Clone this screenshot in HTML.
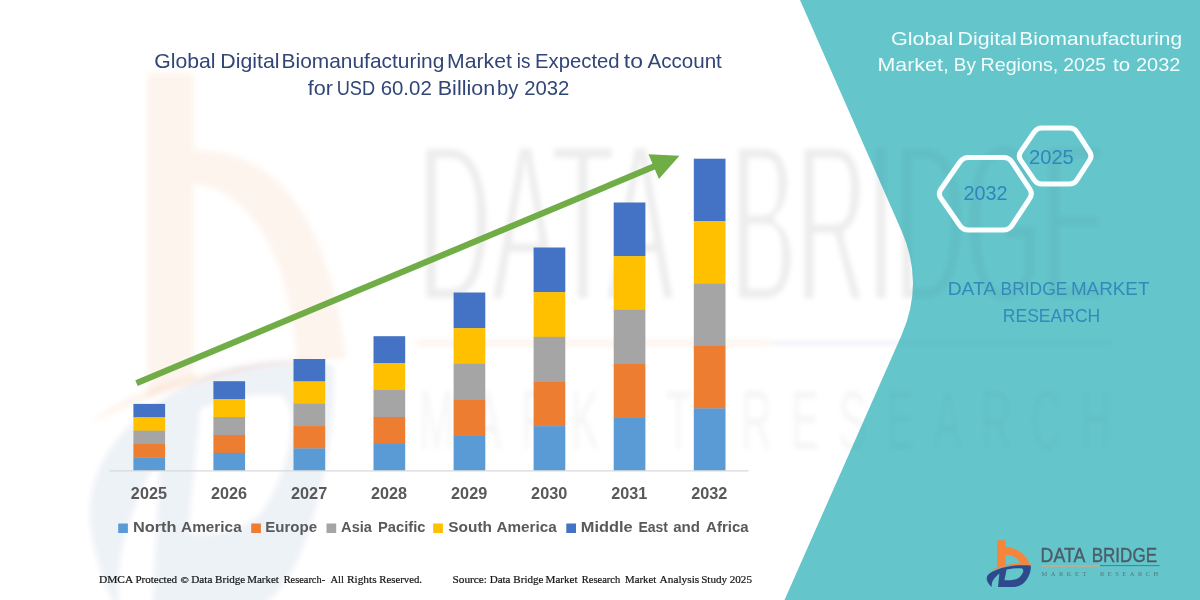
<!DOCTYPE html>
<html lang="en">
<head>
<meta charset="utf-8">
<title>Global Digital Biomanufacturing Market</title>
<style>
  html, body { margin: 0; padding: 0; background: #ffffff; }
  body { width: 1200px; height: 600px; overflow: hidden; }
  svg { display: block; }
  text { font-family: "Liberation Sans", sans-serif; }
  text.serif { font-family: "Liberation Serif", serif; }
  #mark .o { fill: #F5853B; }
  #mark .b { fill: #2F4A8C; }
</style>
</head>
<body>
<svg width="1200" height="600" viewBox="0 0 1200 600">
  <defs>
    <filter id="wmblur" x="-5%" y="-5%" width="110%" height="110%"><feGaussianBlur stdDeviation="2.6"/></filter>
    <filter id="wmthin" x="-5%" y="-5%" width="110%" height="110%"><feMorphology operator="erode" radius="0.4 3.6"/><feGaussianBlur stdDeviation="2.8"/></filter>
    <!-- logo mark drawn in a 50x50 box -->
    <g id="mark">
      <g id="markO">
      <path class="o" d="M12.1,0.2 L20.65,0.2 L20.65,7.2 C25,7 27.5,7.6 30.5,9.2 C35,11.4 38.5,14.2 41,17.6 C42.8,20 44,22.4 44.8,24.9 L35.6,23.7 C33.6,19.6 31,17.2 27.5,16 C25.4,15.3 23.4,15.1 20.65,15.1 L20.65,25.3 L12.1,27.4 Z"/>
      <path class="o" d="M2.6,31.1 C8,28.6 14,26.8 20.6,25.2 C29,23.6 38,23.4 49.6,24.8 C38,24.6 29,25 21,26.6 C14,28 8,29.6 2.6,31.1 Z"/>
      </g>
      <path id="markB" class="b" d="M45.8,25.6 C38,24.9 30,25.1 22,26.7 C14,28.4 8.2,30.6 4.4,33.6 C1.6,35.9 1,38.6 2.4,41.4 C3.6,43.8 5.2,45.8 6.9,47 C6.4,44.6 6.8,42.2 8.3,39.9 C9.8,37.6 11.8,35.4 14.4,33.4 L13,46.9 L29.8,47.1 C34.4,46.6 38,44.4 40.8,40.8 C43.4,37.4 45,33.6 45.6,30 C45.9,28.4 45.9,27 45.8,25.6 Z M21.6,29.4 C27,28.3 32,28 36.6,28.2 C38.2,29 38.6,30.4 38.1,32 C37.2,34.6 35.4,36.6 33.2,38.2 C30,40 25,40.5 19.4,40.2 Z"/>
    </g>
  <g id="wm">
    <g filter="url(#wmblur)">
      <g fill="#ED7D31" fill-opacity="0.085">
        <path d="M147.5,73 L194,73 L194,150 C226,150 262,160 290,195 C320,232 338,290 346,358 L297,361 C292,300 280,256 256,223 C238,200 220,186 194,185 L194,380 L147.5,397 Z"/>
        <path d="M90,423 C120,398 160,382 200,374 C250,362 300,356 352,357 C300,360 250,368 204,382 C160,394 122,408 90,423 Z"/>
      </g>
      <g transform="translate(81.1,70.7) scale(5.5,11.5)" opacity="0.07">
        <use href="#markB"/>
      </g>
      <rect x="416" y="340.5" width="354" height="5" fill="#ED7D31" fill-opacity="0.09"/>
      <rect x="770" y="341.5" width="342" height="3" fill="#2F4A8C" fill-opacity="0.07"/>
      <text transform="translate(419,449) scale(0.5,1)" x="0" y="0" font-size="84" fill="#000000" fill-opacity="0.038" textLength="1384" lengthAdjust="spacing" xml:space="preserve">MARKET RESEARCH</text>
    </g>
    <g fill="#000000" fill-opacity="0.07" font-size="228" filter="url(#wmthin)">
      <text x="418" y="302" textLength="256" lengthAdjust="spacingAndGlyphs">DATA</text>
      <text x="731" y="302" textLength="376" lengthAdjust="spacingAndGlyphs">BRIDGE</text>
    </g>
  </g>
    <clipPath id="cpTeal"><path d="M800,0 L901.5,230.7 Q924.5,283 901.5,335.3 L784.5,600 L1200,600 L1200,0 Z"/></clipPath>
    <clipPath id="cpWhite"><path d="M0,0 H1200 V600 H0 Z M800,0 L901.5,230.7 Q924.5,283 901.5,335.3 L784.5,600 L1200,600 L1200,0 Z" clip-rule="evenodd"/></clipPath>
  </defs>

  <rect x="0" y="0" width="1200" height="600" fill="#ffffff"/>

  <!-- TEAL PANEL -->
  <path id="panel" d="M800,0 L901.5,230.7 Q924.5,283 901.5,335.3 L784.5,600 L1200,600 L1200,0 Z" fill="#64C5CB"/>

  <!-- WATERMARK -->
  <use href="#wm" clip-path="url(#cpWhite)"/>
  <use href="#wm" clip-path="url(#cpTeal)" opacity="0.5"/>

  <!-- TITLE -->
  <g fill="#314577">
    <text y="68" font-size="20.2"><tspan x="154.24" textLength="61.35" lengthAdjust="spacingAndGlyphs">Global</tspan> <tspan x="220.30" textLength="59.17" lengthAdjust="spacingAndGlyphs">Digital</tspan> <tspan x="281.63" textLength="162.67" lengthAdjust="spacingAndGlyphs">Biomanufacturing</tspan> <tspan x="447.00" textLength="64.83" lengthAdjust="spacingAndGlyphs">Market</tspan> <tspan x="516.77" textLength="13.63" lengthAdjust="spacingAndGlyphs">is</tspan> <tspan x="535.08" textLength="84.53" lengthAdjust="spacingAndGlyphs">Expected</tspan> <tspan x="623.86" textLength="19.15" lengthAdjust="spacingAndGlyphs">to</tspan> <tspan x="647.40" textLength="74.47" lengthAdjust="spacingAndGlyphs">Account</tspan></text>
    <text y="94.9" font-size="20.2"><tspan x="307.88" textLength="25.19" lengthAdjust="spacingAndGlyphs">for</tspan> <tspan x="336.64" textLength="38.41" lengthAdjust="spacingAndGlyphs">USD</tspan> <tspan x="380.68" textLength="51.09" lengthAdjust="spacingAndGlyphs">60.02</tspan> <tspan x="437.78" textLength="57.38" lengthAdjust="spacingAndGlyphs">Billion</tspan> <tspan x="496.99" textLength="21.34" lengthAdjust="spacingAndGlyphs">by</tspan> <tspan x="524.19" textLength="45.12" lengthAdjust="spacingAndGlyphs">2032</tspan></text>
  </g>

  <!-- CHART -->
  <g id="chart">
    <rect x="133.4" y="403.90" width="31.7" height="13.68" fill="#4472C4"/>
    <rect x="133.4" y="417.28" width="31.7" height="13.68" fill="#FFC000"/>
    <rect x="133.4" y="430.66" width="31.7" height="13.68" fill="#A5A5A5"/>
    <rect x="133.4" y="444.04" width="31.7" height="13.68" fill="#ED7D31"/>
    <rect x="133.4" y="457.42" width="31.7" height="13.38" fill="#5B9BD5"/>
    <rect x="213.4" y="381.20" width="31.7" height="18.22" fill="#4472C4"/>
    <rect x="213.4" y="399.12" width="31.7" height="18.22" fill="#FFC000"/>
    <rect x="213.4" y="417.04" width="31.7" height="18.22" fill="#A5A5A5"/>
    <rect x="213.4" y="434.96" width="31.7" height="18.22" fill="#ED7D31"/>
    <rect x="213.4" y="452.88" width="31.7" height="17.92" fill="#5B9BD5"/>
    <rect x="293.5" y="359.00" width="31.7" height="22.66" fill="#4472C4"/>
    <rect x="293.5" y="381.36" width="31.7" height="22.66" fill="#FFC000"/>
    <rect x="293.5" y="403.72" width="31.7" height="22.66" fill="#A5A5A5"/>
    <rect x="293.5" y="426.08" width="31.7" height="22.66" fill="#ED7D31"/>
    <rect x="293.5" y="448.44" width="31.7" height="22.36" fill="#5B9BD5"/>
    <rect x="373.5" y="336.20" width="31.7" height="27.22" fill="#4472C4"/>
    <rect x="373.5" y="363.12" width="31.7" height="27.22" fill="#FFC000"/>
    <rect x="373.5" y="390.04" width="31.7" height="27.22" fill="#A5A5A5"/>
    <rect x="373.5" y="416.96" width="31.7" height="27.22" fill="#ED7D31"/>
    <rect x="373.5" y="443.88" width="31.7" height="26.92" fill="#5B9BD5"/>
    <rect x="453.6" y="292.50" width="31.7" height="35.96" fill="#4472C4"/>
    <rect x="453.6" y="328.16" width="31.7" height="35.96" fill="#FFC000"/>
    <rect x="453.6" y="363.82" width="31.7" height="35.96" fill="#A5A5A5"/>
    <rect x="453.6" y="399.48" width="31.7" height="35.96" fill="#ED7D31"/>
    <rect x="453.6" y="435.14" width="31.7" height="35.66" fill="#5B9BD5"/>
    <rect x="533.6" y="247.50" width="31.7" height="44.96" fill="#4472C4"/>
    <rect x="533.6" y="292.16" width="31.7" height="44.96" fill="#FFC000"/>
    <rect x="533.6" y="336.82" width="31.7" height="44.96" fill="#A5A5A5"/>
    <rect x="533.6" y="381.48" width="31.7" height="44.96" fill="#ED7D31"/>
    <rect x="533.6" y="426.14" width="31.7" height="44.66" fill="#5B9BD5"/>
    <rect x="613.7" y="202.50" width="31.7" height="53.96" fill="#4472C4"/>
    <rect x="613.7" y="256.16" width="31.7" height="53.96" fill="#FFC000"/>
    <rect x="613.7" y="309.82" width="31.7" height="53.96" fill="#A5A5A5"/>
    <rect x="613.7" y="363.48" width="31.7" height="53.96" fill="#ED7D31"/>
    <rect x="613.7" y="417.14" width="31.7" height="53.66" fill="#5B9BD5"/>
    <rect x="693.8" y="158.70" width="31.7" height="62.72" fill="#4472C4"/>
    <rect x="693.8" y="221.12" width="31.7" height="62.72" fill="#FFC000"/>
    <rect x="693.8" y="283.54" width="31.7" height="62.72" fill="#A5A5A5"/>
    <rect x="693.8" y="345.96" width="31.7" height="62.72" fill="#ED7D31"/>
    <rect x="693.8" y="408.38" width="31.7" height="62.42" fill="#5B9BD5"/>
    <line x1="109.5" y1="470.8" x2="748.5" y2="470.8" stroke="#D9D9D9" stroke-width="1.3"/>
    <polygon fill="#70AD47" points="137.7,386.1 654.9,169.5 658.9,179.1 679.5,155.8 648.5,154.2 652.5,163.8 135.3,380.3"/>
  </g>
  <g fill="#595959">
    <text y="498.9" font-size="15.8" font-weight="bold"><tspan x="130.88" textLength="36.05" lengthAdjust="spacingAndGlyphs">2025</tspan></text>
    <text y="498.9" font-size="15.8" font-weight="bold"><tspan x="210.93" textLength="36.13" lengthAdjust="spacingAndGlyphs">2026</tspan></text>
    <text y="498.9" font-size="15.8" font-weight="bold"><tspan x="290.98" textLength="36.30" lengthAdjust="spacingAndGlyphs">2027</tspan></text>
    <text y="498.9" font-size="15.8" font-weight="bold"><tspan x="371.03" textLength="36.05" lengthAdjust="spacingAndGlyphs">2028</tspan></text>
    <text y="498.9" font-size="15.8" font-weight="bold"><tspan x="451.08" textLength="36.13" lengthAdjust="spacingAndGlyphs">2029</tspan></text>
    <text y="498.9" font-size="15.8" font-weight="bold"><tspan x="531.13" textLength="36.21" lengthAdjust="spacingAndGlyphs">2030</tspan></text>
    <text y="498.9" font-size="15.8" font-weight="bold"><tspan x="611.18" textLength="36.05" lengthAdjust="spacingAndGlyphs">2031</tspan></text>
    <text y="498.9" font-size="15.8" font-weight="bold"><tspan x="691.23" textLength="36.21" lengthAdjust="spacingAndGlyphs">2032</tspan></text>
  </g>
  <g fill="#595959">
    <rect x="118.2" y="523.5" width="9.7" height="9.5" fill="#5B9BD5"/>
    <text y="531.8" font-size="14.4" font-weight="bold"><tspan x="132.94" textLength="43.56" lengthAdjust="spacingAndGlyphs">North</tspan> <tspan x="181.12" textLength="60.56" lengthAdjust="spacingAndGlyphs">America</tspan></text>
    <rect x="251.2" y="523.5" width="9.7" height="9.5" fill="#ED7D31"/>
    <text y="531.8" font-size="14.4" font-weight="bold"><tspan x="265.22" textLength="51.80" lengthAdjust="spacingAndGlyphs">Europe</tspan></text>
    <rect x="326.5" y="523.5" width="9.7" height="9.5" fill="#A5A5A5"/>
    <text y="531.8" font-size="14.4" font-weight="bold"><tspan x="341.14" textLength="30.75" lengthAdjust="spacingAndGlyphs">Asia</tspan> <tspan x="378.04" textLength="47.38" lengthAdjust="spacingAndGlyphs">Pacific</tspan></text>
    <rect x="433.2" y="523.5" width="9.7" height="9.5" fill="#FFC000"/>
    <text y="531.8" font-size="14.4" font-weight="bold"><tspan x="448.29" textLength="43.68" lengthAdjust="spacingAndGlyphs">South</tspan> <tspan x="496.52" textLength="60.26" lengthAdjust="spacingAndGlyphs">America</tspan></text>
    <rect x="566.3" y="523.5" width="9.7" height="9.5" fill="#4472C4"/>
    <text y="531.8" font-size="14.4" font-weight="bold"><tspan x="580.84" textLength="51.76" lengthAdjust="spacingAndGlyphs">Middle</tspan> <tspan x="638.39" textLength="29.58" lengthAdjust="spacingAndGlyphs">East</tspan> <tspan x="673.25" textLength="26.77" lengthAdjust="spacingAndGlyphs">and</tspan> <tspan x="706.13" textLength="42.39" lengthAdjust="spacingAndGlyphs">Africa</tspan></text>
  </g>

  <!-- FOOTER -->
  <g fill="#161616" stroke="#161616" stroke-width="0.22">
    <text class="serif" y="583" font-size="11.2"><tspan x="98.96" textLength="33.60" lengthAdjust="spacingAndGlyphs">DMCA</tspan> <tspan x="135.47" textLength="41.56" lengthAdjust="spacingAndGlyphs">Protected</tspan> <tspan x="180.41" textLength="8.33" lengthAdjust="spacingAndGlyphs" font-size="9.2">©</tspan> <tspan x="191.26" textLength="21.18" lengthAdjust="spacingAndGlyphs">Data</tspan> <tspan x="215.07" textLength="30.24" lengthAdjust="spacingAndGlyphs">Bridge</tspan> <tspan x="247.27" textLength="31.61" lengthAdjust="spacingAndGlyphs">Market</tspan> <tspan x="283.69" textLength="41.40" lengthAdjust="spacingAndGlyphs">Research-</tspan> <tspan x="330.50" textLength="13.39" lengthAdjust="spacingAndGlyphs">All</tspan> <tspan x="346.96" textLength="29.66" lengthAdjust="spacingAndGlyphs">Rights</tspan> <tspan x="379.28" textLength="42.73" lengthAdjust="spacingAndGlyphs">Reserved.</tspan></text>
    <text class="serif" y="583" font-size="11.2"><tspan x="452.47" textLength="34.54" lengthAdjust="spacingAndGlyphs">Source:</tspan> <tspan x="489.67" textLength="20.87" lengthAdjust="spacingAndGlyphs">Data</tspan> <tspan x="513.37" textLength="30.04" lengthAdjust="spacingAndGlyphs">Bridge</tspan> <tspan x="545.57" textLength="32.02" lengthAdjust="spacingAndGlyphs">Market</tspan> <tspan x="581.79" textLength="38.37" lengthAdjust="spacingAndGlyphs">Research</tspan> <tspan x="625.07" textLength="31.31" lengthAdjust="spacingAndGlyphs">Market</tspan> <tspan x="659.59" textLength="39.61" lengthAdjust="spacingAndGlyphs">Analysis</tspan> <tspan x="701.18" textLength="25.97" lengthAdjust="spacingAndGlyphs">Study</tspan> <tspan x="729.70" textLength="22.25" lengthAdjust="spacingAndGlyphs">2025</tspan></text>
  </g>

  <!-- RIGHT PANEL CONTENT -->
  <g id="right">
    <g fill="#F2FDFD">
      <text y="44.6" font-size="19.0"><tspan x="890.92" textLength="62.50" lengthAdjust="spacingAndGlyphs">Global</tspan> <tspan x="957.49" textLength="59.38" lengthAdjust="spacingAndGlyphs">Digital</tspan> <tspan x="1019.33" textLength="162.78" lengthAdjust="spacingAndGlyphs">Biomanufacturing</tspan></text>
      <text y="70.8" font-size="19.0"><tspan x="877.49" textLength="71.42" lengthAdjust="spacingAndGlyphs">Market,</tspan> <tspan x="953.79" textLength="22.05" lengthAdjust="spacingAndGlyphs">By</tspan> <tspan x="980.42" textLength="77.89" lengthAdjust="spacingAndGlyphs">Regions,</tspan> <tspan x="1063.24" textLength="42.83" lengthAdjust="spacingAndGlyphs">2025</tspan> <tspan x="1112.99" textLength="17.11" lengthAdjust="spacingAndGlyphs">to</tspan> <tspan x="1136.00" textLength="44.39" lengthAdjust="spacingAndGlyphs">2032</tspan></text>
    </g>
    <!-- hexagons -->
    <g fill="none" stroke="#FBFEFE" stroke-width="5.1" stroke-linejoin="round">
      <path d="M940.94,198.27 Q937.80,193.75 940.94,189.23 L959.86,162.02 Q963.00,157.50 968.50,157.50 L1003.50,157.50 Q1009.00,157.50 1012.02,162.10 L1029.78,189.15 Q1032.80,193.75 1029.78,198.35 L1012.02,225.40 Q1009.00,230.00 1003.50,230.00 L968.50,230.00 Q963.00,230.00 959.86,225.48 Z"/>
      <path d="M1020.63,160.12 Q1017.80,156.00 1020.63,151.88 L1034.17,132.12 Q1037.00,128.00 1042.00,128.00 L1069.30,128.00 Q1074.30,128.00 1077.01,132.20 L1089.69,151.80 Q1092.40,156.00 1089.69,160.20 L1077.01,179.80 Q1074.30,184.00 1069.30,184.00 L1042.00,184.00 Q1037.00,184.00 1034.17,179.88 Z"/>
    </g>
    <g fill="#2F86BC">
      <text y="200" font-size="19.8"><tspan x="963.41" textLength="43.97" lengthAdjust="spacingAndGlyphs">2032</tspan></text>
      <text y="163.6" font-size="19.8"><tspan x="1028.99" textLength="44.80" lengthAdjust="spacingAndGlyphs">2025</tspan></text>
    </g>
    <g fill="#3489BB">
      <text y="295.4" font-size="18.8"><tspan x="947.70" textLength="47.37" lengthAdjust="spacingAndGlyphs">DATA</tspan> <tspan x="1000.61" textLength="66.66" lengthAdjust="spacingAndGlyphs">BRIDGE</tspan> <tspan x="1070.89" textLength="78.52" lengthAdjust="spacingAndGlyphs">MARKET</tspan></text>
      <text y="322.4" font-size="18.8"><tspan x="1002.80" textLength="97.43" lengthAdjust="spacingAndGlyphs">RESEARCH</tspan></text>
    </g>
    <!-- logo -->
    <g transform="translate(985,540)">
      <use href="#mark"/>
    </g>
    <g fill="#4B5C68" stroke="#4B5C68" stroke-width="0.35">
      <text y="561.6" font-size="20.2"><tspan x="1040.61" textLength="43.75" lengthAdjust="spacingAndGlyphs">DATA</tspan> <tspan x="1091.64" textLength="65.42" lengthAdjust="spacingAndGlyphs">BRIDGE</tspan></text>
    </g>
    <rect x="1042" y="565.2" width="58" height="1.6" fill="#C6AC8C"/>
    <rect x="1100" y="565.1" width="59.6" height="1" fill="#4A7A95"/>
    <text class="serif" x="1041.6" y="575.7" font-size="6.4" fill="#56757F" textLength="116.6" lengthAdjust="spacing" xml:space="preserve">MARKET  RESEARCH</text>
  </g>
</svg>
</body>
</html>
